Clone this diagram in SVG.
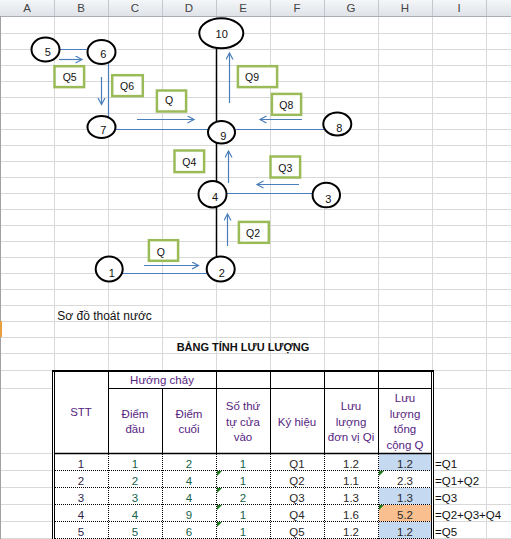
<svg xmlns="http://www.w3.org/2000/svg" width="511" height="539" viewBox="0 0 511 539">
<defs>
<linearGradient id="hdr" x1="0" y1="0" x2="0" y2="1"><stop offset="0" stop-color="#f4f6f8"/><stop offset="1" stop-color="#dfe3e8"/></linearGradient>
<marker id="ah" markerWidth="10" markerHeight="10" refX="7" refY="4" orient="auto" markerUnits="userSpaceOnUse"><path d="M0.5,0.5 L7,4 L0.5,7.5" fill="none" stroke="#4a7ebb" stroke-width="1.2"/></marker>
</defs>
<style>
.grid{stroke:#d9d9d9;stroke-width:1;fill:none}
.hl{font-family:"Liberation Sans",Arial,sans-serif;font-size:11.5px;fill:#444;text-anchor:middle}
.nd ellipse{fill:#fff;stroke:#000;stroke-width:2}
.nd text{font-family:"Liberation Sans",Arial,sans-serif;font-size:11px;fill:#111;text-anchor:middle}
.lb rect{fill:#fff;stroke:#9bbb59;stroke-width:2.5}
.lb text{font-family:"Liberation Sans",Arial,sans-serif;font-size:10.5px;fill:#111}
.blue{stroke:#4a7ebb;stroke-width:1.2;fill:none}
.arr{stroke:#4a7ebb;stroke-width:1.2;fill:none;marker-end:url(#ah)}
.t{font-family:"Liberation Sans",Arial,sans-serif;font-size:11.5px;text-anchor:middle}
.th{fill:#56247f}
.cb{fill:#2e1f4a}
.cg{fill:#135f4c}
.cf{fill:#2a2a2a}
.dot{stroke:#000;stroke-width:1;stroke-dasharray:1,1;fill:none}
.bd{stroke:#000;fill:none}
.tri{fill:#1e7b1e}
</style>
<rect x="0" y="0" width="511" height="539" fill="#fff"/>
<g id="gridlines" class="grid">
<path d="M54.5,16V539M108.5,16V539M162.5,16V539M216.5,16V539M270.5,16V539M324.5,16V539M378.5,16V539M432.5,16V539M486.5,16V539"/>
<path d="M0,33.5H511M0,49.5H511M0,65.5H511M0,81.5H511M0,97.5H511M0,113.5H511M0,129.5H511M0,145.5H511M0,161.5H511M0,177.5H511M0,193.5H511M0,209.5H511M0,225.5H511M0,241.5H511M0,257.5H511M0,273.5H511M0,289.5H511M0,305.5H511M0,321.5H511M0,337.5H511M0,353.5H511M0,370.5H511M0,388.5H511M0,453.5H511M0,470.5H511M0,487.5H511M0,504.5H511M0,521.5H511M0,538.5H511"/>
</g>
<g id="colheader">
<rect x="0" y="0" width="511" height="16" fill="url(#hdr)"/>
<path d="M0,16.5H511" stroke="#a8adb4" stroke-width="1"/>
<path d="M54.5,0V16M108.5,0V16M162.5,0V16M216.5,0V16M270.5,0V16M324.5,0V16M378.5,0V16M432.5,0V16M486.5,0V16" stroke="#c3c8ce" stroke-width="1"/>
<text class="hl" x="27" y="12">A</text><text class="hl" x="81" y="12">B</text><text class="hl" x="135" y="12">C</text><text class="hl" x="189" y="12">D</text><text class="hl" x="243" y="12">E</text><text class="hl" x="297" y="12">F</text><text class="hl" x="351" y="12">G</text><text class="hl" x="405" y="12">H</text><text class="hl" x="459" y="12">I</text>
<path d="M0.5,16V539" stroke="#a0a0a0" stroke-width="1"/>
<path d="M1,321V337" stroke="#e8a040" stroke-width="2"/>
</g>
<g id="connectors">
<path d="M216.5,49V258" stroke="#000" stroke-width="1.5" fill="none"/>
<path class="blue" d="M59,49.5H88M108.5,62V121M115,129.5H208M236,129.5H324M227,193.5H313M122,273.5H207"/>
<path class="arr" d="M59,59.5H82"/>
<path class="arr" d="M101.5,77V104.5"/>
<path class="arr" d="M137,119.5H194"/>
<path class="arr" d="M229.5,103V53"/>
<path class="arr" d="M302,119.5H260"/>
<path class="arr" d="M228.5,183V151"/>
<path class="arr" d="M299,184.5H257"/>
<path class="arr" d="M227.5,246V214"/>
<path class="arr" d="M144,265.5H198.5"/>
</g>
<g id="node5" class="nd"><ellipse cx="45.5" cy="49.5" rx="14" ry="12"/><text x="47.7" y="56.3">5</text></g>
<g id="node6" class="nd"><ellipse cx="101.5" cy="52" rx="14" ry="12"/><text x="103.3" y="58.3">6</text></g>
<g id="node7" class="nd"><ellipse cx="101.5" cy="127" rx="14" ry="11"/><text x="103.3" y="134">7</text></g>
<g id="node10" class="nd"><ellipse cx="221.3" cy="33.3" rx="22" ry="15"/><text x="221.7" y="38.3">10</text></g>
<g id="node9" class="nd"><ellipse cx="221.5" cy="132.3" rx="13.5" ry="11.2"/><text x="223.3" y="140">9</text></g>
<g id="node8" class="nd"><ellipse cx="337.3" cy="124" rx="14" ry="11.5"/><text x="339.3" y="132.3">8</text></g>
<g id="node4" class="nd"><ellipse cx="212.5" cy="194.2" rx="14" ry="13.2"/><text x="215" y="201.3">4</text></g>
<g id="node3" class="nd"><ellipse cx="326.3" cy="195" rx="13.7" ry="12.3"/><text x="328.3" y="203.3">3</text></g>
<g id="node2" class="nd"><ellipse cx="220.7" cy="269" rx="14" ry="12.5"/><text x="221.7" y="277.3">2</text></g>
<g id="node1" class="nd"><ellipse cx="109.2" cy="269" rx="13.5" ry="12.5"/><text x="111.7" y="277.3">1</text></g>
<g id="labelQ5" class="lb"><rect x="54.5" y="66.2" width="29.6" height="20.9"/><text x="62.7" y="81">Q5</text></g>
<g id="labelQ6" class="lb"><rect x="112.2" y="75.2" width="30.6" height="20.9"/><text x="120" y="90.4">Q6</text></g>
<g id="labelQtop" class="lb"><rect x="156.9" y="90.5" width="29.2" height="21"/><text x="165" y="104.4">Q</text></g>
<g id="labelQ9" class="lb"><rect x="237.9" y="66.2" width="39.2" height="20.9"/><text x="245" y="81">Q9</text></g>
<g id="labelQ8" class="lb"><rect x="271.9" y="93.9" width="29.2" height="20.9"/><text x="279.3" y="109">Q8</text></g>
<g id="labelQ4" class="lb"><rect x="174.5" y="150.5" width="29.6" height="21.6"/><text x="182.3" y="166">Q4</text></g>
<g id="labelQ3" class="lb"><rect x="270.5" y="156.5" width="29.6" height="21"/><text x="278.3" y="172">Q3</text></g>
<g id="labelQ2" class="lb"><rect x="238.9" y="221.9" width="29.9" height="20.9"/><text x="246" y="237">Q2</text></g>
<g id="labelQbottom" class="lb"><rect x="148.9" y="240.2" width="29.2" height="20.6"/><text x="156.7" y="255.7">Q</text></g>
<text x="57.3" y="319.5" font-family="'Liberation Sans',Arial,sans-serif" font-size="12" fill="#111">Sơ đồ thoát nước</text>
<text x="243" y="351" font-family="'Liberation Sans',Arial,sans-serif" font-size="11" font-weight="bold" fill="#111" text-anchor="middle">BẢNG TÍNH LƯU LƯỢNG</text>
<g id="table">
<rect x="53" y="371" width="380" height="168" fill="#fff"/>
<rect x="379" y="454" width="52.5" height="16.5" fill="#c5d9f1"/>
<rect x="379" y="488" width="52.5" height="16.5" fill="#c5d9f1"/>
<rect x="379" y="505" width="52.5" height="16.5" fill="#fabf8f"/>
<rect x="379" y="522" width="52.5" height="16.5" fill="#c5d9f1"/>
<path class="bd" stroke-width="2" d="M52,371H434"/>
<path class="bd" stroke-width="1" d="M52.5,370V539M54.5,371V539M431.5,371V539M433.5,370V539"/>
<path class="bd" stroke-width="1" d="M108,388.5H431M108.5,371V453.5M162.5,388.5V453.5M216.5,371V453.5M270.5,371V453.5M324.5,371V453.5M378.5,371V453.5"/>
<path class="bd" stroke-width="1.3" d="M55,453.5H431"/>
<path class="dot" d="M55,470.5H431M55,487.5H431M55,504.5H431M55,521.5H431M55,538.5H431"/>
<path class="dot" d="M108.5,454V539M162.5,454V539M216.5,454V539M270.5,454V539M324.5,454V539M378.5,454V539"/>
<path class="tri" d="M217,471H222L217,476ZM217,488H222L217,493ZM217,505H222L217,510ZM217,522H222L217,527ZM379,471H384L379,476ZM379,505H384L379,510Z"/>
<g class="t th">
<text x="162" y="384">Hướng chảy</text>
<text x="81" y="415.5">STT</text>
<text x="135" y="417.7">Điểm</text><text x="135" y="433.2">đầu</text>
<text x="189" y="417.7">Điểm</text><text x="189" y="433.2">cuối</text>
<text x="243" y="410">Số thứ</text><text x="243" y="425.5">tự cửa</text><text x="243" y="441">vào</text>
<text x="297" y="425.5">Ký hiệu</text>
<text x="351" y="410">Lưu</text><text x="351" y="425.5">lượng</text><text x="351" y="441">đơn vị Qi</text>
<text x="405" y="402.3">Lưu</text><text x="405" y="417.8">lượng</text><text x="405" y="433.3">tổng</text><text x="405" y="448.8">cộng Q</text>
</g>
<g class="t cb">
<text x="81" y="467.5">1</text><text x="81" y="484.5">2</text><text x="81" y="501.5">3</text><text x="81" y="518.5">4</text><text x="81" y="535.5">5</text>
</g>
<g class="t cg">
<text x="135" y="467.5">1</text><text x="135" y="484.5">2</text><text x="135" y="501.5">3</text><text x="135" y="518.5">4</text><text x="135" y="535.5">5</text>
<text x="189" y="467.5">2</text><text x="189" y="484.5">4</text><text x="189" y="501.5">4</text><text x="189" y="518.5">9</text><text x="189" y="535.5">6</text>
<text x="243" y="467.5">1</text><text x="243" y="484.5">1</text><text x="243" y="501.5">2</text><text x="243" y="518.5">1</text><text x="243" y="535.5">1</text>
</g>
<g class="t cf">
<text x="297" y="467.5">Q1</text><text x="297" y="484.5">Q2</text><text x="297" y="501.5">Q3</text><text x="297" y="518.5">Q4</text><text x="297" y="535.5">Q5</text>
<text x="351" y="467.5">1.2</text><text x="351" y="484.5">1.1</text><text x="351" y="501.5">1.3</text><text x="351" y="518.5">1.6</text><text x="351" y="535.5">1.2</text>
<text x="405" y="467.5">1.2</text><text x="405" y="484.5">2.3</text><text x="405" y="501.5">1.3</text><text x="405" y="518.5">5.2</text><text x="405" y="535.5">1.2</text>
</g>
<g font-family="'Liberation Sans',Arial,sans-serif" font-size="11.5" fill="#111">
<text x="435" y="467.5">=Q1</text><text x="435" y="484.5">=Q1+Q2</text><text x="435" y="501.5">=Q3</text><text x="435" y="518.5">=Q2+Q3+Q4</text><text x="435" y="535.5">=Q5</text>
</g>
</g>
</svg>
